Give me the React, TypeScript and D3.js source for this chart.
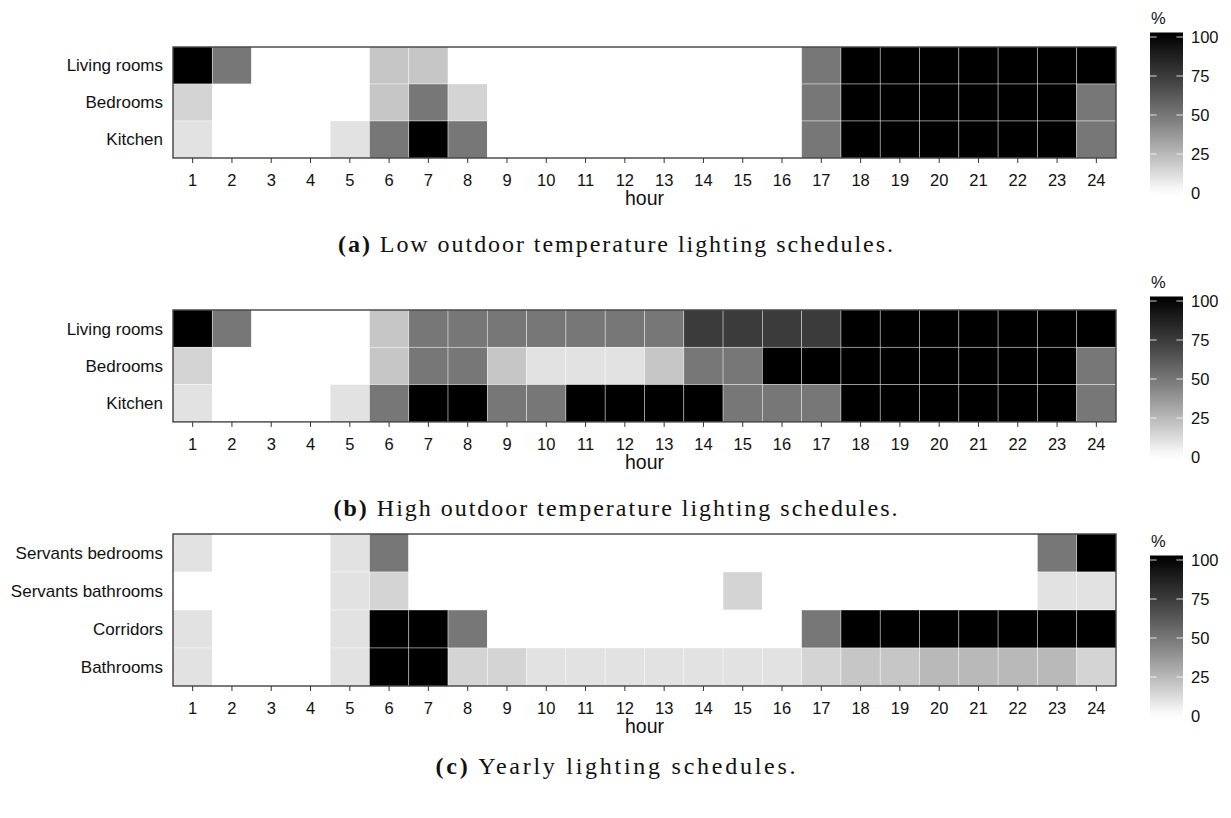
import React from "react";
import * as d3 from "d3";

// hours on the x axis
const HOURS = [1, 2, 3, 4, 5, 6, 7, 8, 9, 10, 11, 12, 13, 14, 15, 16, 17, 18, 19, 20, 21, 22, 23, 24];
const LEGEND_BREAKS = [0, 25, 50, 75, 100];

// (a) low outdoor temperature
const LOW_ROWS = ["Living rooms", "Bedrooms", "Kitchen"];
const LOW_LIVING = [100, 50, 0, 0, 0, 20, 20, 0, 0, 0, 0, 0, 0, 0, 0, 0, 50, 100, 100, 100, 100, 100, 100, 100];
const LOW_BEDROOMS = [15, 0, 0, 0, 0, 20, 50, 15, 0, 0, 0, 0, 0, 0, 0, 0, 50, 100, 100, 100, 100, 100, 100, 50];
const LOW_KITCHEN = [10, 0, 0, 0, 10, 50, 100, 50, 0, 0, 0, 0, 0, 0, 0, 0, 50, 100, 100, 100, 100, 100, 100, 50];

// (b) high outdoor temperature
const HIGH_ROWS = ["Living rooms", "Bedrooms", "Kitchen"];
const HIGH_LIVING = [100, 50, 0, 0, 0, 20, 50, 50, 50, 50, 50, 50, 50, 75, 75, 75, 75, 100, 100, 100, 100, 100, 100, 100];
const HIGH_BEDROOMS = [15, 0, 0, 0, 0, 20, 50, 50, 20, 10, 10, 10, 20, 50, 50, 100, 100, 100, 100, 100, 100, 100, 100, 50];
const HIGH_KITCHEN = [10, 0, 0, 0, 10, 50, 100, 100, 50, 50, 100, 100, 100, 100, 50, 50, 50, 100, 100, 100, 100, 100, 100, 50];

// (c) yearly
const YEAR_ROWS = ["Servants bedrooms", "Servants bathrooms", "Corridors", "Bathrooms"];
const YEAR_SERV_BED = [10, 0, 0, 0, 10, 50, 0, 0, 0, 0, 0, 0, 0, 0, 0, 0, 0, 0, 0, 0, 0, 0, 50, 100];
const YEAR_SERV_BATH = [0, 0, 0, 0, 10, 15, 0, 0, 0, 0, 0, 0, 0, 0, 15, 0, 0, 0, 0, 0, 0, 0, 10, 10];
const YEAR_CORRIDORS = [10, 0, 0, 0, 10, 100, 100, 50, 0, 0, 0, 0, 0, 0, 0, 0, 50, 100, 100, 100, 100, 100, 100, 100];
const YEAR_BATHROOMS = [10, 0, 0, 0, 10, 100, 100, 15, 15, 10, 10, 10, 10, 10, 10, 10, 15, 20, 20, 25, 25, 25, 25, 15];

const color = d3
  .scaleLinear<string>()
  .domain([0, 100])
  .range(["#ffffff", "#000000"])
  .interpolate(d3.interpolateLab)
  .clamp(true);

const SANS = "'Liberation Sans', Arial, sans-serif";
const SERIF = "'Liberation Serif', 'Times New Roman', serif";
const LEFT = 173;
const RIGHT = 1116;

type PanelProps = {
  id: string;
  rows: string[];
  values: number[][];
  top: number;
  rowH: number;
  legendTop: number;
  captionY: number;
  captionW: number;
  tag: string;
  caption: string;
};

function Panel({ id, rows, values, top, rowH, legendTop, captionY, captionW, tag, caption }: PanelProps) {
  const bottom = top + rowH * rows.length;
  const x = d3.scaleBand().domain(HOURS.map(String)).range([LEFT, RIGHT]);
  const y = d3.scaleBand().domain(rows).range([top, bottom]);

  // legend bar, a little longer than the 0..100 breaks
  const legY = d3.scaleLinear().domain([0, 100]).range([legendTop + 156, legendTop]);
  const pad = 4.5;
  const barX = 1150;
  const barW = 33;
  const barTop = legY(100) - pad;
  const barBottom = legY(0) + pad;
  const stops = d3.range(0, 1.0001, 0.05).map((t) => {
    const yy = barBottom - t * (barBottom - barTop);
    return { off: t, c: color(legY.invert(yy)) };
  });

  return (
    <g>
      <defs>
        <linearGradient id={"grad" + id} x1="0" y1="1" x2="0" y2="0">
          {stops.map((s) => (
            <stop key={s.off} offset={s.off} stopColor={s.c} />
          ))}
        </linearGradient>
      </defs>
      {rows.map((r, ri) =>
        values[ri].map((v, hi) => (
          <rect
            key={r + hi}
            x={x(String(HOURS[hi]))}
            y={y(r)}
            width={x.bandwidth()}
            height={y.bandwidth()}
            fill={color(v)}
            stroke="#ffffff"
            strokeOpacity={0.55}
            strokeWidth={0.7}
          />
        ))
      )}
      <rect x={LEFT} y={top} width={RIGHT - LEFT} height={bottom - top} fill="none" stroke="#333" strokeWidth={1.3} />
      {rows.map((r) => (
        <text key={r} x={LEFT - 10} y={(y(r) ?? 0) + y.bandwidth() / 2} dy="0.35em" textAnchor="end" fontSize={17} fontFamily={SANS} fill="#111">
          {r}
        </text>
      ))}
      {HOURS.map((h) => {
        const cx = (x(String(h)) ?? 0) + x.bandwidth() / 2;
        return (
          <g key={h}>
            <line x1={cx} x2={cx} y1={bottom} y2={bottom + 5} stroke="#333" strokeWidth={1} />
            <text x={cx} y={bottom + 22} dy="0.35em" textAnchor="middle" fontSize={16.5} fontFamily={SANS} fill="#111">
              {h}
            </text>
          </g>
        );
      })}
      <text x={(LEFT + RIGHT) / 2} y={bottom + 40} dy="0.35em" textAnchor="middle" fontSize={19.5} fontFamily={SANS} fill="#111">
        hour
      </text>
      <text x={615.5} y={captionY} dy="0.35em" textAnchor="middle" fontSize={24} fontFamily={SERIF} fill="#111" textLength={captionW} lengthAdjust="spacing">
        <tspan fontWeight="bold">{tag}</tspan> {caption}
      </text>

      <text x={barX + 1} y={legendTop - 19} dy="0.35em" fontSize={16.5} fontFamily={SANS} fill="#111">
        %
      </text>
      <rect x={barX} y={barTop} width={barW} height={barBottom - barTop} fill={`url(#grad${id})`} />
      {LEGEND_BREAKS.map((b) => (
        <g key={b}>
          <line x1={barX} x2={barX + barW / 5} y1={legY(b)} y2={legY(b)} stroke="#fff" strokeOpacity={0.8} />
          <line x1={barX + barW - barW / 5} x2={barX + barW} y1={legY(b)} y2={legY(b)} stroke="#fff" strokeOpacity={0.8} />
          <text x={barX + barW + 8} y={legY(b)} dy="0.35em" fontSize={16.5} fontFamily={SANS} fill="#111">
            {b}
          </text>
        </g>
      ))}
    </g>
  );
}

export default function App() {
  return (
    <div style={{ position: "absolute", left: 0, top: 0 }}>
      <svg width={1231} height={818} style={{ display: "block", background: "#fff" }}>
        <Panel
          id="a"
          rows={LOW_ROWS}
          values={[LOW_LIVING, LOW_BEDROOMS, LOW_KITCHEN]}
          top={47}
          rowH={37}
          legendTop={37}
          captionY={244}
          captionW={555}
          tag="(a)"
          caption="Low outdoor temperature lighting schedules."
        />
        <Panel
          id="b"
          rows={HIGH_ROWS}
          values={[HIGH_LIVING, HIGH_BEDROOMS, HIGH_KITCHEN]}
          top={310}
          rowH={37.3}
          legendTop={301}
          captionY={508}
          captionW={564}
          tag="(b)"
          caption="High outdoor temperature lighting schedules."
        />
        <Panel
          id="c"
          rows={YEAR_ROWS}
          values={[YEAR_SERV_BED, YEAR_SERV_BATH, YEAR_CORRIDORS, YEAR_BATHROOMS]}
          top={534}
          rowH={38}
          legendTop={560}
          captionY={766}
          captionW={360}
          tag="(c)"
          caption="Yearly lighting schedules."
        />
      </svg>
    </div>
  );
}
